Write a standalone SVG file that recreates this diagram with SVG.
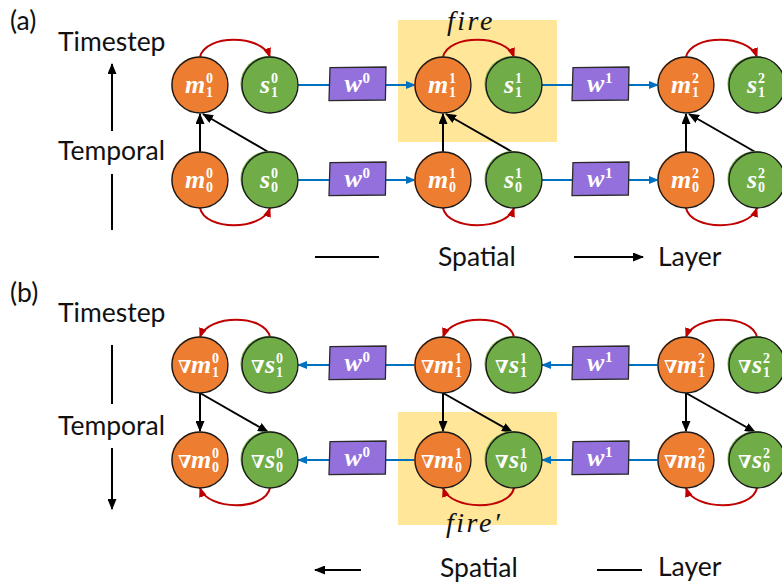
<svg xmlns="http://www.w3.org/2000/svg" xmlns:xlink="http://www.w3.org/1999/xlink" width="782" height="586" viewBox="0 0 782 586">
  <style>
    .lbl { font-family: Lato, "Liberation Sans", sans-serif; font-size: 26.5px; fill: #111; }
    .fn { font-family: "Liberation Serif", serif; font-style: italic; font-size: 28px; letter-spacing: 2.5px; fill: #111; }
    .hl { fill: #FFE699; }
    .m { fill: #ED7D31; stroke: #1a1a1a; stroke-width: 1.3; }
    .s { fill: #70AD47; stroke: #1a1a1a; stroke-width: 1.3; }
    .mu { fill: #ED7D31; }
    .su { fill: #70AD47; }
    .wb { fill: #9370DB; stroke: #2a2a2a; stroke-width: 1.3; }
    .nt { fill: #fff; font-family: "Liberation Serif", "DejaVu Serif", serif; font-weight: bold; }
    .v { font-style: italic; font-size: 26px; }
    .d { font-size: 14px; }
    .wd { font-size: 15px; }
    .nb { font-family: "DejaVu Serif", serif; font-size: 18px; }
    .blue { stroke: #0070C0; stroke-width: 2; fill: none; }
    .red { stroke: #C00000; stroke-width: 2; fill: none; }
    .blk { stroke: #000; stroke-width: 2; fill: none; }
  </style>
  <defs>
    <marker id="hb" viewBox="0 0 10 8" refX="9" refY="4" markerWidth="10" markerHeight="8" markerUnits="userSpaceOnUse" orient="auto">
      <path d="M0,0 L10,4 L0,8 Z" fill="#0070C0"/>
    </marker>
    <marker id="hr" viewBox="0 0 10 8" refX="9" refY="4" markerWidth="10" markerHeight="8" markerUnits="userSpaceOnUse" orient="auto">
      <path d="M0,0 L10,4 L0,8 Z" fill="#C00000"/>
    </marker>
    <marker id="hk" viewBox="0 0 11 9" refX="10" refY="4.5" markerWidth="11" markerHeight="9" markerUnits="userSpaceOnUse" orient="auto">
      <path d="M0,0 L11,4.5 L0,9 Z" fill="#000"/>
    </marker>
    <path id="wbox" d="M1,0.6 L57,0 L56.4,33 L0,33.6 Z"/>
  </defs>

  <!-- panel labels and axes -->
  <g id="axes">
    <text class="lbl" x="10" y="30">(a)</text>
    <text class="lbl" x="58" y="51">Timestep</text>
    <text class="lbl" x="58" y="160">Temporal</text>
    <line class="blk" x1="112" y1="131" x2="112" y2="64" marker-end="url(#hk)"/>
    <line class="blk" x1="112" y1="174" x2="112" y2="230"/>
    <line class="blk" x1="315" y1="257" x2="379" y2="257"/>
    <text class="lbl" x="438" y="266">Spatial</text>
    <line class="blk" x1="574" y1="257" x2="643" y2="257" marker-end="url(#hk)"/>
    <text class="lbl" x="658" y="266">Layer</text>

    <text class="lbl" x="10" y="302">(b)</text>
    <text class="lbl" x="58" y="322">Timestep</text>
    <text class="lbl" x="58" y="435">Temporal</text>
    <line class="blk" x1="112" y1="345" x2="112" y2="404"/>
    <line class="blk" x1="112" y1="448" x2="112" y2="509" marker-end="url(#hk)"/>
    <line class="blk" x1="361" y1="570" x2="315" y2="570" marker-end="url(#hk)"/>
    <text class="lbl" x="440" y="577">Spatial</text>
    <line class="blk" x1="597" y1="570" x2="642" y2="570"/>
    <text class="lbl" x="658" y="576">Layer</text>
  </g>

  <!-- highlighted fire regions -->
  <g id="fire-a">
    <rect class="hl" x="398" y="20" width="159" height="122"/>
    <text class="fn" x="447" y="30">fire</text>
  </g>
  <g id="fire-b">
    <rect class="hl" x="398" y="412" width="159" height="113"/>
    <text class="fn" x="446" y="532">fire′</text>
  </g>

  <!-- connectors -->
  <g id="connectors">
    <!-- (a) forward: spatial -->
    <path class="blue" d="M298,85 H329"/>
    <path class="blue" d="M386,85 H415" marker-end="url(#hb)"/>
    <path class="blue" d="M542,85 H572"/>
    <path class="blue" d="M628,85 H658" marker-end="url(#hb)"/>
    <path class="blue" d="M298,180 H329"/>
    <path class="blue" d="M386,180 H415" marker-end="url(#hb)"/>
    <path class="blue" d="M542,180 H572"/>
    <path class="blue" d="M628,180 H658" marker-end="url(#hb)"/>
    <!-- (a) fire arcs -->
    <path class="red" d="M200,57 C205,34 262,34 270,57" marker-end="url(#hr)"/>
    <path class="red" d="M443,57 C448,34 506,34 514,57" marker-end="url(#hr)"/>
    <path class="red" d="M686,57 C691,34 749,34 757,57" marker-end="url(#hr)"/>
    <path class="red" d="M200,208 C205,231 262,231 270,208" marker-end="url(#hr)"/>
    <path class="red" d="M443,208 C448,231 506,231 514,208" marker-end="url(#hr)"/>
    <path class="red" d="M686,208 C691,231 749,231 757,208" marker-end="url(#hr)"/>
    <!-- (a) temporal -->
    <path class="blk" d="M200,152 V114" marker-end="url(#hk)"/>
    <path class="blk" d="M270,153 L203,114" marker-end="url(#hk)"/>
    <path class="blk" d="M443,152 V114" marker-end="url(#hk)"/>
    <path class="blk" d="M514,153 L446,114" marker-end="url(#hk)"/>
    <path class="blk" d="M686,152 V114" marker-end="url(#hk)"/>
    <path class="blk" d="M757,153 L689,114" marker-end="url(#hk)"/>

    <!-- (b) backward: spatial -->
    <path class="blue" d="M415,365 H386"/>
    <path class="blue" d="M329,365 H298" marker-end="url(#hb)"/>
    <path class="blue" d="M658,365 H628"/>
    <path class="blue" d="M572,365 H542" marker-end="url(#hb)"/>
    <path class="blue" d="M415,460 H386"/>
    <path class="blue" d="M329,460 H298" marker-end="url(#hb)"/>
    <path class="blue" d="M658,460 H628"/>
    <path class="blue" d="M572,460 H542" marker-end="url(#hb)"/>
    <!-- (b) fire arcs -->
    <path class="red" d="M270,337 C265,314 208,314 200,337" marker-end="url(#hr)"/>
    <path class="red" d="M514,337 C509,314 451,314 443,337" marker-end="url(#hr)"/>
    <path class="red" d="M757,337 C752,314 694,314 686,337" marker-end="url(#hr)"/>
    <path class="red" d="M270,488 C265,511 208,511 200,488" marker-end="url(#hr)"/>
    <path class="red" d="M514,488 C509,511 451,511 443,488" marker-end="url(#hr)"/>
    <path class="red" d="M757,488 C752,511 694,511 686,488" marker-end="url(#hr)"/>
    <!-- (b) temporal -->
    <path class="blk" d="M200,393 V431" marker-end="url(#hk)"/>
    <path class="blk" d="M200,393 L268,432" marker-end="url(#hk)"/>
    <path class="blk" d="M443,393 V431" marker-end="url(#hk)"/>
    <path class="blk" d="M443,393 L512,432" marker-end="url(#hk)"/>
    <path class="blk" d="M686,393 V431" marker-end="url(#hk)"/>
    <path class="blk" d="M686,393 L755,432" marker-end="url(#hk)"/>
  </g>

  <!-- weight boxes -->
  <g id="w0-a1"><use xlink:href="#wbox" class="wb" x="329" y="67"/><text class="nt"><tspan class="v" x="344.5" y="91.5">w</tspan><tspan class="wd" x="362.5" y="83">0</tspan></text></g>
  <g id="w1-a1"><use xlink:href="#wbox" class="wb" x="572" y="67"/><text class="nt"><tspan class="v" x="587" y="91.5">w</tspan><tspan class="wd" x="605" y="83">1</tspan></text></g>
  <g id="w0-a0"><use xlink:href="#wbox" class="wb" x="329" y="162"/><text class="nt"><tspan class="v" x="344.5" y="186.5">w</tspan><tspan class="wd" x="362.5" y="178">0</tspan></text></g>
  <g id="w1-a0"><use xlink:href="#wbox" class="wb" x="572" y="162"/><text class="nt"><tspan class="v" x="587" y="186.5">w</tspan><tspan class="wd" x="605" y="178">1</tspan></text></g>
  <g id="w0-b1"><use xlink:href="#wbox" class="wb" x="329" y="346"/><text class="nt"><tspan class="v" x="344.5" y="370.5">w</tspan><tspan class="wd" x="362.5" y="362">0</tspan></text></g>
  <g id="w1-b1"><use xlink:href="#wbox" class="wb" x="572" y="346"/><text class="nt"><tspan class="v" x="587" y="370.5">w</tspan><tspan class="wd" x="605" y="362">1</tspan></text></g>
  <g id="w0-b0"><use xlink:href="#wbox" class="wb" x="329" y="441"/><text class="nt"><tspan class="v" x="344.5" y="465.5">w</tspan><tspan class="wd" x="362.5" y="457">0</tspan></text></g>
  <g id="w1-b0"><use xlink:href="#wbox" class="wb" x="572" y="441"/><text class="nt"><tspan class="v" x="587" y="465.5">w</tspan><tspan class="wd" x="605" y="457">1</tspan></text></g>

  <!-- (a) forward neurons: membrane m and spike s -->
  <g id="m1-0"><circle class="mu" cx="199" cy="84.5" r="28"/><circle class="m" cx="200" cy="85" r="28"/><text class="nt"><tspan class="v" x="185" y="93">m</tspan><tspan class="d" x="206" y="83">0</tspan><tspan class="d" x="206" y="97">1</tspan></text></g>
  <g id="s1-0"><circle class="su" cx="268.5" cy="84" r="28"/><circle class="s" cx="270" cy="85" r="28"/><text class="nt"><tspan class="v" x="260" y="93">s</tspan><tspan class="d" x="271" y="83">0</tspan><tspan class="d" x="271" y="97">1</tspan></text></g>
  <g id="m1-1"><circle class="mu" cx="442" cy="84.5" r="28"/><circle class="m" cx="443" cy="85" r="28"/><text class="nt"><tspan class="v" x="428" y="93">m</tspan><tspan class="d" x="449" y="83">1</tspan><tspan class="d" x="449" y="97">1</tspan></text></g>
  <g id="s1-1"><circle class="su" cx="512.5" cy="84" r="28"/><circle class="s" cx="514" cy="85" r="28"/><text class="nt"><tspan class="v" x="504" y="93">s</tspan><tspan class="d" x="515" y="83">1</tspan><tspan class="d" x="515" y="97">1</tspan></text></g>
  <g id="m1-2"><circle class="mu" cx="685" cy="84.5" r="28"/><circle class="m" cx="686" cy="85" r="28"/><text class="nt"><tspan class="v" x="671" y="93">m</tspan><tspan class="d" x="692" y="83">2</tspan><tspan class="d" x="692" y="97">1</tspan></text></g>
  <g id="s1-2"><circle class="su" cx="755.5" cy="84" r="28"/><circle class="s" cx="757" cy="85" r="28"/><text class="nt"><tspan class="v" x="747" y="93">s</tspan><tspan class="d" x="758" y="83">2</tspan><tspan class="d" x="758" y="97">1</tspan></text></g>

  <g id="m0-0"><circle class="mu" cx="199" cy="179.5" r="28"/><circle class="m" cx="200" cy="180" r="28"/><text class="nt"><tspan class="v" x="185" y="188">m</tspan><tspan class="d" x="206" y="178">0</tspan><tspan class="d" x="206" y="192">0</tspan></text></g>
  <g id="s0-0"><circle class="su" cx="268.5" cy="179" r="28"/><circle class="s" cx="270" cy="180" r="28"/><text class="nt"><tspan class="v" x="260" y="188">s</tspan><tspan class="d" x="271" y="178">0</tspan><tspan class="d" x="271" y="192">0</tspan></text></g>
  <g id="m0-1"><circle class="mu" cx="442" cy="179.5" r="28"/><circle class="m" cx="443" cy="180" r="28"/><text class="nt"><tspan class="v" x="428" y="188">m</tspan><tspan class="d" x="449" y="178">1</tspan><tspan class="d" x="449" y="192">0</tspan></text></g>
  <g id="s0-1"><circle class="su" cx="512.5" cy="179" r="28"/><circle class="s" cx="514" cy="180" r="28"/><text class="nt"><tspan class="v" x="504" y="188">s</tspan><tspan class="d" x="515" y="178">1</tspan><tspan class="d" x="515" y="192">0</tspan></text></g>
  <g id="m0-2"><circle class="mu" cx="685" cy="179.5" r="28"/><circle class="m" cx="686" cy="180" r="28"/><text class="nt"><tspan class="v" x="671" y="188">m</tspan><tspan class="d" x="692" y="178">2</tspan><tspan class="d" x="692" y="192">0</tspan></text></g>
  <g id="s0-2"><circle class="su" cx="755.5" cy="179" r="28"/><circle class="s" cx="757" cy="180" r="28"/><text class="nt"><tspan class="v" x="747" y="188">s</tspan><tspan class="d" x="758" y="178">2</tspan><tspan class="d" x="758" y="192">0</tspan></text></g>

  <!-- (b) backward neurons: gradients -->
  <g id="gm1-0"><circle class="mu" cx="199" cy="364.5" r="28"/><circle class="m" cx="200" cy="365" r="28"/><text class="nt"><tspan class="nb" x="178" y="373">∇</tspan><tspan class="v" x="191" y="373">m</tspan><tspan class="d" x="212" y="363">0</tspan><tspan class="d" x="212" y="377">1</tspan></text></g>
  <g id="gs1-0"><circle class="su" cx="268.5" cy="364" r="28"/><circle class="s" cx="270" cy="365" r="28"/><text class="nt"><tspan class="nb" x="251" y="373">∇</tspan><tspan class="v" x="265" y="373">s</tspan><tspan class="d" x="276" y="363">0</tspan><tspan class="d" x="276" y="377">1</tspan></text></g>
  <g id="gm1-1"><circle class="mu" cx="442" cy="364.5" r="28"/><circle class="m" cx="443" cy="365" r="28"/><text class="nt"><tspan class="nb" x="421" y="373">∇</tspan><tspan class="v" x="434" y="373">m</tspan><tspan class="d" x="455" y="363">1</tspan><tspan class="d" x="455" y="377">1</tspan></text></g>
  <g id="gs1-1"><circle class="su" cx="512.5" cy="364" r="28"/><circle class="s" cx="514" cy="365" r="28"/><text class="nt"><tspan class="nb" x="495" y="373">∇</tspan><tspan class="v" x="509" y="373">s</tspan><tspan class="d" x="520" y="363">1</tspan><tspan class="d" x="520" y="377">1</tspan></text></g>
  <g id="gm1-2"><circle class="mu" cx="685" cy="364.5" r="28"/><circle class="m" cx="686" cy="365" r="28"/><text class="nt"><tspan class="nb" x="664" y="373">∇</tspan><tspan class="v" x="677" y="373">m</tspan><tspan class="d" x="698" y="363">2</tspan><tspan class="d" x="698" y="377">1</tspan></text></g>
  <g id="gs1-2"><circle class="su" cx="755.5" cy="364" r="28"/><circle class="s" cx="757" cy="365" r="28"/><text class="nt"><tspan class="nb" x="738" y="373">∇</tspan><tspan class="v" x="752" y="373">s</tspan><tspan class="d" x="763" y="363">2</tspan><tspan class="d" x="763" y="377">1</tspan></text></g>

  <g id="gm0-0"><circle class="mu" cx="199" cy="459.5" r="28"/><circle class="m" cx="200" cy="460" r="28"/><text class="nt"><tspan class="nb" x="178" y="468">∇</tspan><tspan class="v" x="191" y="468">m</tspan><tspan class="d" x="212" y="458">0</tspan><tspan class="d" x="212" y="472">0</tspan></text></g>
  <g id="gs0-0"><circle class="su" cx="268.5" cy="459" r="28"/><circle class="s" cx="270" cy="460" r="28"/><text class="nt"><tspan class="nb" x="251" y="468">∇</tspan><tspan class="v" x="265" y="468">s</tspan><tspan class="d" x="276" y="458">0</tspan><tspan class="d" x="276" y="472">0</tspan></text></g>
  <g id="gm0-1"><circle class="mu" cx="442" cy="459.5" r="28"/><circle class="m" cx="443" cy="460" r="28"/><text class="nt"><tspan class="nb" x="421" y="468">∇</tspan><tspan class="v" x="434" y="468">m</tspan><tspan class="d" x="455" y="458">1</tspan><tspan class="d" x="455" y="472">0</tspan></text></g>
  <g id="gs0-1"><circle class="su" cx="512.5" cy="459" r="28"/><circle class="s" cx="514" cy="460" r="28"/><text class="nt"><tspan class="nb" x="495" y="468">∇</tspan><tspan class="v" x="509" y="468">s</tspan><tspan class="d" x="520" y="458">1</tspan><tspan class="d" x="520" y="472">0</tspan></text></g>
  <g id="gm0-2"><circle class="mu" cx="685" cy="459.5" r="28"/><circle class="m" cx="686" cy="460" r="28"/><text class="nt"><tspan class="nb" x="664" y="468">∇</tspan><tspan class="v" x="677" y="468">m</tspan><tspan class="d" x="698" y="458">2</tspan><tspan class="d" x="698" y="472">0</tspan></text></g>
  <g id="gs0-2"><circle class="su" cx="755.5" cy="459" r="28"/><circle class="s" cx="757" cy="460" r="28"/><text class="nt"><tspan class="nb" x="738" y="468">∇</tspan><tspan class="v" x="752" y="468">s</tspan><tspan class="d" x="763" y="458">2</tspan><tspan class="d" x="763" y="472">0</tspan></text></g>
</svg>
